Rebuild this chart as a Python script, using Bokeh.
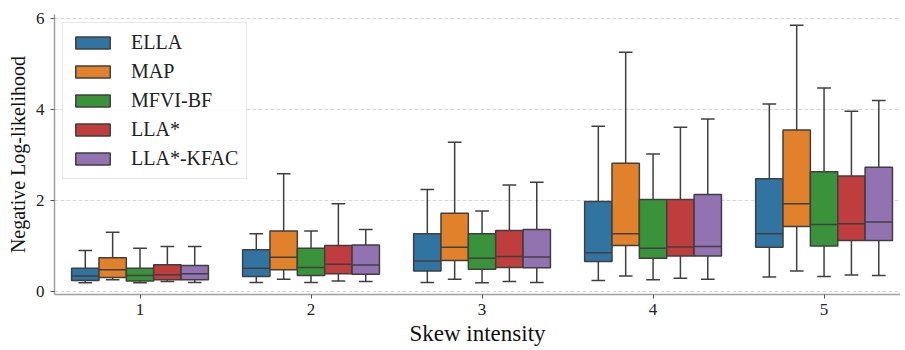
from bokeh.plotting import figure
from bokeh.models import ColumnDataSource, Legend, LegendItem, FixedTicker, Range1d
from bokeh.embed import file_html
from bokeh.resources import INLINE

skew = [1, 2, 3, 4, 5]
methods = ["ELLA", "MAP", "MFVI-BF", "LLA*", "LLA*-KFAC"]
colors = ["#3274a1", "#e1812c", "#3a923a", "#c03d3e", "#9372b2"]

# per method: lower whisker, q1, median, q3, upper whisker for skew 1..5
ella_low = [0.19, 0.20, 0.20, 0.24, 0.32]
ella_q1 = [0.24, 0.33, 0.45, 0.66, 0.97]
ella_med = [0.34, 0.51, 0.67, 0.85, 1.27]
ella_q3 = [0.51, 0.92, 1.27, 1.98, 2.48]
ella_up = [0.90, 1.27, 2.24, 3.63, 4.12]

map_low = [0.26, 0.27, 0.27, 0.34, 0.45]
map_q1 = [0.31, 0.48, 0.68, 1.01, 1.43]
map_med = [0.48, 0.75, 0.97, 1.27, 1.93]
map_q3 = [0.74, 1.33, 1.72, 2.82, 3.55]
map_up = [1.30, 2.59, 3.28, 5.26, 5.85]

mfvi_low = [0.19, 0.20, 0.19, 0.26, 0.33]
mfvi_q1 = [0.23, 0.35, 0.49, 0.73, 1.00]
mfvi_med = [0.35, 0.53, 0.73, 0.95, 1.47]
mfvi_q3 = [0.51, 0.95, 1.27, 2.02, 2.63]
mfvi_up = [0.95, 1.33, 1.77, 3.02, 4.47]

lla_low = [0.22, 0.23, 0.22, 0.29, 0.36]
lla_q1 = [0.26, 0.39, 0.53, 0.78, 1.12]
lla_med = [0.37, 0.60, 0.77, 0.98, 1.49]
lla_q3 = [0.59, 1.01, 1.34, 2.02, 2.54]
lla_up = [0.99, 1.93, 2.34, 3.61, 3.96]

kfac_low = [0.20, 0.22, 0.20, 0.27, 0.35]
kfac_q1 = [0.26, 0.38, 0.52, 0.78, 1.12]
kfac_med = [0.39, 0.58, 0.76, 0.99, 1.53]
kfac_q3 = [0.57, 1.02, 1.36, 2.13, 2.73]
kfac_up = [0.99, 1.36, 2.40, 3.79, 4.20]

stats = [
    (ella_low, ella_q1, ella_med, ella_q3, ella_up),
    (map_low, map_q1, map_med, map_q3, map_up),
    (mfvi_low, mfvi_q1, mfvi_med, mfvi_q3, mfvi_up),
    (lla_low, lla_q1, lla_med, lla_q3, lla_up),
    (kfac_low, kfac_q1, kfac_med, kfac_q3, kfac_up),
]

FONT = "Liberation Serif"
EDGE = "#3f3f3f"
dodge = 0.16
box_w = 0.16
cap_w = 0.08

p = figure(width=900, height=349, output_backend="svg", toolbar_location=None,
           x_range=Range1d(0.5, 5.447), y_range=Range1d(-0.066, 6.088),
           min_border_left=54, min_border_right=0, min_border_top=14, min_border_bottom=55)
p.outline_line_color = None
p.background_fill_color = "white"
p.border_fill_color = "white"

items = []
for i, (name, col, st) in enumerate(zip(methods, colors, stats)):
    low, q1, med, q3, up = st
    xs = [s + (i - 2) * dodge for s in skew]
    src = ColumnDataSource(dict(x=xs, low=low, q1=q1, med=med, q3=q3, up=up,
                                xl=[x - box_w / 2 for x in xs], xr=[x + box_w / 2 for x in xs],
                                cl=[x - cap_w / 2 for x in xs], cr=[x + cap_w / 2 for x in xs]))
    p.segment(x0="x", y0="q3", x1="x", y1="up", source=src, line_color=EDGE, line_width=1.5)
    p.segment(x0="x", y0="low", x1="x", y1="q1", source=src, line_color=EDGE, line_width=1.5)
    p.segment(x0="cl", y0="up", x1="cr", y1="up", source=src, line_color=EDGE, line_width=1.5)
    p.segment(x0="cl", y0="low", x1="cr", y1="low", source=src, line_color=EDGE, line_width=1.5)
    r = p.vbar(x="x", width=box_w, bottom="q1", top="q3", source=src,
               fill_color=col, line_color=EDGE, line_width=1.5)
    p.segment(x0="xl", y0="med", x1="xr", y1="med", source=src, line_color=EDGE, line_width=1.5)
    items.append(LegendItem(label=name, renderers=[r]))

legend = Legend(items=items, location="top_left")
legend.label_text_font = FONT
legend.label_text_font_size = "20px"
legend.label_text_color = "#222222"
legend.glyph_width = 43
legend.glyph_height = 15
legend.label_height = 22
legend.spacing = 6
legend.padding = 8
legend.margin = 8
legend.label_standoff = 17
legend.border_line_color = "#d0d0d0"
legend.border_line_width = 1
legend.background_fill_alpha = 0.85
p.add_layout(legend)

p.xaxis.ticker = FixedTicker(ticks=skew)
p.yaxis.ticker = FixedTicker(ticks=[0, 2, 4, 6])
p.xgrid.grid_line_color = None
p.ygrid.grid_line_color = "#d8d8d8"
p.ygrid.grid_line_dash = "4 2"
p.ygrid.grid_line_width = 1

for ax in (p.xaxis[0], p.yaxis[0]):
    ax.axis_line_color = "#a0a0a0"
    ax.axis_line_width = 1.5
    ax.major_tick_line_color = "#555555"
    ax.major_tick_out = 4
    ax.major_tick_in = 0
    ax.minor_tick_line_color = None
    ax.major_label_text_font = FONT
    ax.major_label_text_font_size = "17px"
    ax.major_label_text_color = "#222222"
    ax.axis_label_text_font = FONT
    ax.axis_label_text_font_style = "normal"
    ax.axis_label_text_color = "#111111"

p.xaxis.axis_label = "Skew intensity"
p.xaxis.axis_label_text_font_size = "23px"
p.xaxis.axis_label_standoff = 3
p.xaxis.major_label_standoff = 5
p.yaxis.axis_label = "Negative Log-likelihood"
p.yaxis.axis_label_text_font_size = "20px"
p.yaxis.axis_label_standoff = 4
p.yaxis.major_label_standoff = 6

open("out.html", "w").write(file_html(p, INLINE))
